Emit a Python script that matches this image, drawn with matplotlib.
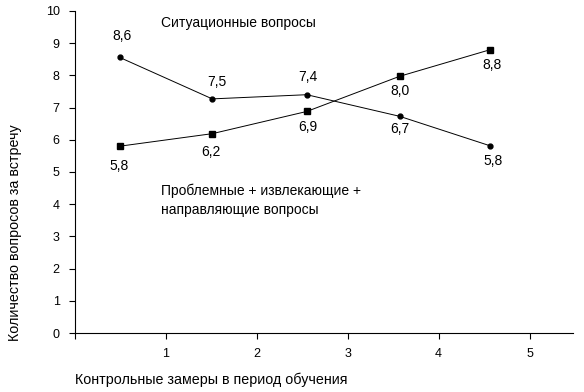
import matplotlib
matplotlib.use("Agg")
import matplotlib.pyplot as plt

# data
x_pos = [0.49, 1.51, 2.55, 3.57, 4.57]
situational = [8.56, 7.27, 7.40, 6.73, 5.81]
situational_labels = ["8,6", "7,5", "7,4", "6,7", "5,8"]
problem = [5.80, 6.19, 6.88, 7.97, 8.80]
problem_labels = ["5,8", "6,2", "6,9", "8,0", "8,8"]
x_ticks = [0, 1, 2, 3, 4, 5]
x_tick_labels = ["", "1", "2", "3", "4", "5"]
y_ticks = list(range(0, 11))

plt.rcParams["font.family"] = ["Liberation Sans", "DejaVu Sans"]
plt.rcParams["font.size"] = 10

fig = plt.figure(figsize=(5.84, 3.92), dpi=100)
ax = fig.add_axes([0.1284, 0.1505, 0.853, 0.8215])

ax.plot(x_pos, situational, color="black", lw=0.7, marker="o", ms=3.5)
ax.plot(x_pos, problem, color="black", lw=0.7, marker="s", ms=4.5)

# label offsets in pixels
sit_offsets = [(2, 21), (5, 17), (1, 18), (0, -13), (3, -15)]
prob_offsets = [(0, -20), (-1, -18), (1, -16), (0, -15), (2, -15)]
for x, y, s, off in zip(x_pos, situational, situational_labels, sit_offsets):
    ax.annotate(s, (x, y), xytext=off, textcoords="offset pixels",
                ha="center", va="center")
for x, y, s, off in zip(x_pos, problem, problem_labels, prob_offsets):
    ax.annotate(s, (x, y), xytext=off, textcoords="offset pixels",
                ha="center", va="center")

ax.text(0.945, 9.63, "Ситуационные вопросы", ha="left", va="center")
ax.text(0.945, 4.13, "Проблемные + извлекающие +\nнаправляющие вопросы",
        ha="left", va="center", linespacing=1.45)

ax.set_xlim(0, 5.48)
ax.set_ylim(0, 10)
ax.set_xticks(x_ticks)
ax.set_xticklabels(x_tick_labels)
ax.set_yticks(y_ticks)
ax.spines["top"].set_visible(False)
ax.spines["right"].set_visible(False)
ax.spines["left"].set_linewidth(0.8)
ax.spines["bottom"].set_linewidth(0.8)
ax.tick_params(axis="both", direction="out", length=4, width=0.8,
               labelsize=9, pad=7)
ax.set_xlabel("Контрольные замеры в период обучения", x=0, ha="left",
              fontsize=10.3, labelpad=9)
ax.set_ylabel("Количество вопросов за встречу", y=0.31, ha="center",
              fontsize=10.3, labelpad=17)

fig.savefig("out.png", dpi=100)
